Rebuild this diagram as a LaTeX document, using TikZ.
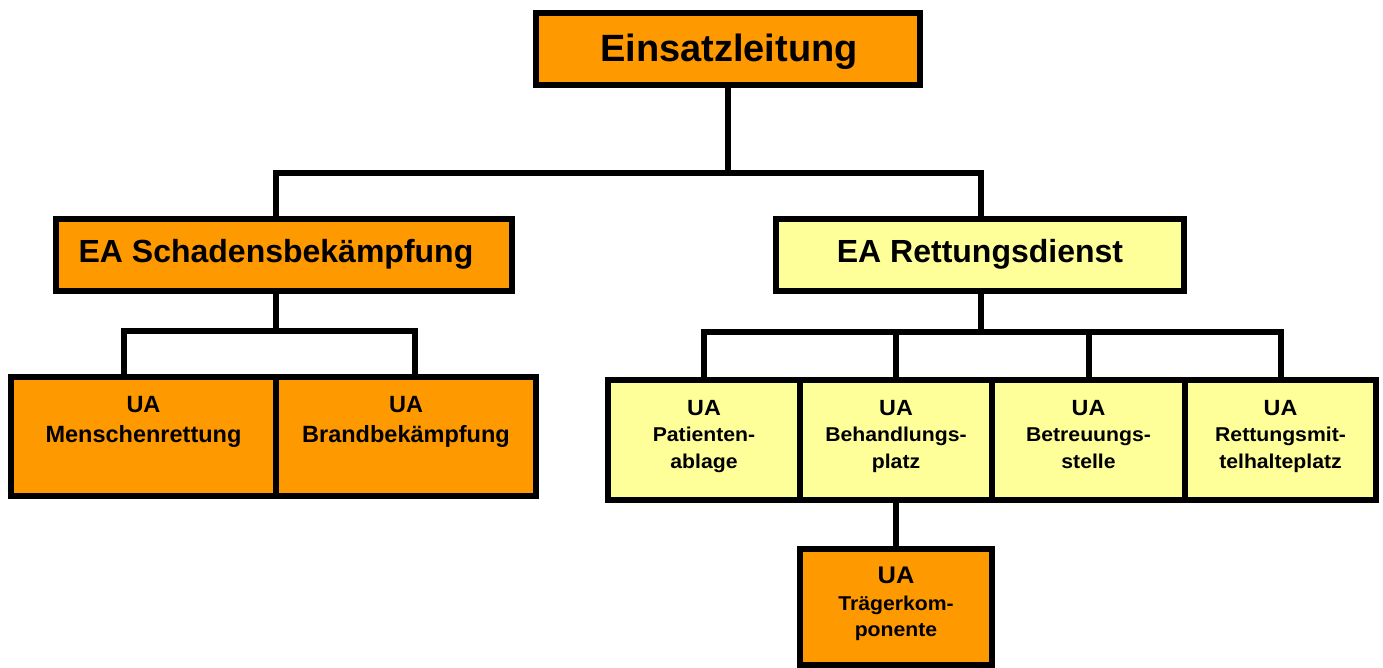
\documentclass[tikz,border=0pt]{standalone}
\usepackage{fontspec}
\setmainfont{Liberation Sans}
\newfontfamily\widesans[FakeStretch=1.06]{Liberation Sans}
\definecolor{orng}{HTML}{FF9900}
\definecolor{ylw}{HTML}{FFFF99}
\begin{document}
\begin{tikzpicture}[x=1pt,y=-1pt,
  box/.style={draw=black, line width=6pt, inner sep=0pt, outer sep=0pt},
  ob/.style={box, fill=orng},
  yb/.style={box, fill=ylw},
  conn/.style={draw=black, line width=6pt, line join=miter},
  txt/.style={inner sep=0pt, outer sep=0pt, align=center, font=\bfseries},
  big/.style={txt, font=\bfseries\fontsize{38}{44}\selectfont},
  mid/.style={txt, font=\bfseries\fontsize{32}{38}\selectfont},
  lua/.style={txt, font=\bfseries\fontsize{23.5}{30}\selectfont},
  rua/.style={txt, font=\bfseries\widesans\fontsize{20}{26.5}\selectfont}]
\useasboundingbox (0,0) rectangle (1383,668);
% boxes
\node[ob, minimum width=384pt, minimum height=71.5pt] (EL) at (728,49.25) {};
\node[ob, minimum width=456pt, minimum height=71.5pt] (ES) at (284,255.25) {};
\node[yb, minimum width=408pt, minimum height=71.5pt] (ER) at (980,255.25) {};
\node[ob, minimum width=265.5pt, minimum height=119pt] (UM) at (143.25,436.5) {};
\node[ob, minimum width=260pt, minimum height=119pt] (UB) at (406,436.5) {};
\node[yb, minimum width=192pt, minimum height=120pt] (UP) at (704,440) {};
\node[yb, minimum width=192pt, minimum height=120pt] (UBH) at (896,440) {};
\node[yb, minimum width=193pt, minimum height=120pt] (UBS) at (1088.5,440) {};
\node[yb, minimum width=191pt, minimum height=120pt] (URM) at (1280.5,440) {};
\node[ob, minimum width=192pt, minimum height=116.5pt] (UT) at (896,606.75) {};
% junction points
\coordinate (b1) at (728,173);
\coordinate (b2) at (276,331);
\coordinate (b3) at (981,332);
% connectors
\draw[conn] (EL.south) -- (b1);
\draw[conn] ([xshift=-8pt]ES.north) |- (b1) -| ([xshift=1pt]ER.north);
\draw[conn] ([xshift=-8pt]ES.south) -- (b2);
\draw[conn] ([xshift=-19.25pt]UM.north) |- (b2) -| ([xshift=9pt]UB.north);
\draw[conn] ([xshift=1pt]ER.south) -- (b3);
\draw[conn] (UP.north) |- (b3) -| (URM.north);
\draw[conn] (UBH.north) -- (UBH.north |- b3);
\draw[conn] (UBS.north) -- (UBS.north |- b3);
\draw[conn] (UBH.south) -- (UT.north);
% texts
\node[big, anchor=base] (tEL) at (729,62) {Einsatzleitung};
\node[mid, anchor=base] (tES) at (276,262) {EA Schadensbekämpfung};
\node[mid, anchor=base] (tER) at (980,262) {EA Rettungsdienst};
\node[lua, anchor=north] (tUM) at (143.5,396) {UA\\Menschenrettung};
\node[lua, anchor=north] (tUB) at (406,396) {UA\\Brandbekämpfung};
\node[rua, anchor=north] (tUP) at (704,400) {{\fontsize{22}{26.5}\selectfont UA}\\Patienten-\\ablage};
\node[rua, anchor=north] (tUBH) at (896,400) {{\fontsize{22}{26.5}\selectfont UA}\\Behandlungs-\\platz};
\node[rua, anchor=north] (tUBS) at (1088.5,400) {{\fontsize{22}{26.5}\selectfont UA}\\Betreuungs-\\stelle};
\node[rua, anchor=north] (tURM) at (1280.5,400) {{\fontsize{22}{26.5}\selectfont UA}\\Rettungsmit-\\telhalteplatz};
\node[rua, anchor=north] (tUT) at (896,567) {{\fontsize{24}{26.5}\selectfont UA}\\Trägerkom-\\ponente};
\end{tikzpicture}
\end{document}
